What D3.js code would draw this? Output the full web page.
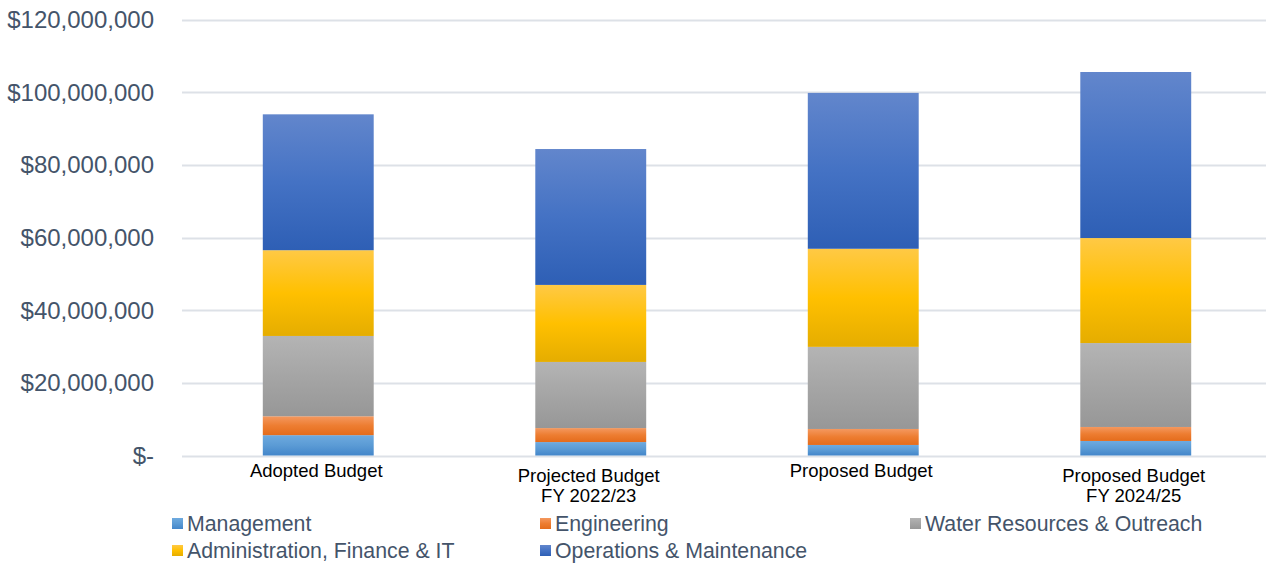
<!DOCTYPE html>
<html><head><meta charset="utf-8">
<script src="https://cdn.jsdelivr.net/npm/d3@7"></script>
<style>body{margin:0;background:#fff}svg{display:block}</style>
</head><body>
<svg id="c" width="1270" height="564"></svg>
<script>
const categories = [["Adopted Budget"], ["Projected Budget", "FY 2022/23"], ["Proposed Budget"], ["Proposed Budget", "FY 2024/25"]];
const seriesNames = ["Management", "Engineering", "Water Resources & Outreach", "Administration, Finance & IT", "Operations & Maintenance"];
const management = [5600000, 3700000, 2900000, 4000000];
const engineering = [5200000, 3850000, 4400000, 3850000];
const waterResources = [22100000, 18200000, 22600000, 23100000];
const adminFinanceIT = [23600000, 21200000, 27000000, 28900000];
const operations = [37400000, 37400000, 42900000, 45700000];
const yTicks = [0, 20000000, 40000000, 60000000, 80000000, 100000000, 120000000];

const seriesValues = [management, engineering, waterResources, adminFinanceIT, operations];
const colors = [
  ["#6eaadf", "#5b9bd5", "#4386ca"],
  ["#f4985f", "#ed7d31", "#e46c1c"],
  ["#b4b4b4", "#a5a5a5", "#979797"],
  ["#ffc945", "#ffc000", "#e5ad00"],
  ["#6286cc", "#4472c4", "#2e5fb5"]
];

const svg = d3.select("#c");
const plotLeft = 182, plotRight = 1272, plotTop = 19.5, plotBottom = 455.5;
const keys = categories.map((c, i) => i);
const x = d3.scaleBand().domain(keys).range([plotLeft, plotRight]).paddingInner(0.593).paddingOuter(0.2965);
const y = d3.scaleLinear().domain([0, 120000000]).range([plotBottom, plotTop]);

const defs = svg.append("defs");
colors.forEach((c, i) => {
  const g = defs.append("linearGradient").attr("id", "g" + i).attr("x1", 0).attr("y1", 0).attr("x2", 0).attr("y2", 1);
  g.append("stop").attr("offset", "0%").attr("stop-color", c[0]);
  g.append("stop").attr("offset", "50%").attr("stop-color", c[1]);
  g.append("stop").attr("offset", "100%").attr("stop-color", c[2]);
});

// gridlines
svg.append("g").selectAll("line").data(yTicks).join("line")
  .attr("x1", plotLeft).attr("x2", 1266)
  .attr("y1", d => Math.round(y(d)) + 0.5).attr("y2", d => Math.round(y(d)) + 0.5)
  .attr("stroke", "#dde1e7").attr("stroke-width", 2);

// y labels
const fmt = d => d === 0 ? "$-" : "$" + d3.format(",")(d);
svg.append("g").selectAll("text").data(yTicks).join("text")
  .attr("x", 154).attr("y", d => y(d) + 8.5)
  .attr("text-anchor", "end")
  .attr("font-family", "Liberation Sans, Arial, sans-serif").attr("font-size", 24)
  .attr("fill", "#44546a")
  .text(fmt);

// stacked bars
const table = keys.map(i => {
  const o = {key: i};
  seriesNames.forEach((s, j) => o[s] = seriesValues[j][i]);
  return o;
});
const stack = d3.stack().keys(seriesNames)(table);
svg.append("g").selectAll("g").data(stack).join("g")
  .attr("fill", (d, i) => "url(#g" + i + ")")
  .selectAll("rect").data(d => d).join("rect")
  .attr("x", d => x(d.data.key))
  .attr("width", x.bandwidth())
  .attr("y", d => y(d[1]))
  .attr("height", d => y(d[0]) - y(d[1]));

// x labels
const xl = svg.append("g").selectAll("text").data(keys).join("text")
  .attr("text-anchor", "middle")
  .attr("font-family", "Liberation Sans, Arial, sans-serif").attr("font-size", 18.5)
  .attr("fill", "#000");
xl.each(function(i) {
  const lines = categories[i];
  const t = d3.select(this);
  const cx = x(i) + x.bandwidth() / 2 - 2;
  const y0 = lines.length === 1 ? 477 : 482;
  lines.forEach((l, k) => t.append("tspan").attr("x", cx).attr("y", y0 + k * 19.5).text(l));
});

// legend
const legendPos = [[172, 523.5], [540, 523.5], [910, 523.5], [172, 550.5], [540, 550.5]];
const lg = svg.append("g").selectAll("g").data(seriesNames).join("g")
  .attr("transform", (d, i) => `translate(${legendPos[i][0]},${legendPos[i][1]})`);
lg.append("rect").attr("x", 0).attr("y", -5.5).attr("width", 11).attr("height", 11)
  .attr("fill", (d, i) => "url(#g" + i + ")");
lg.append("text").attr("x", 15).attr("y", 7.5)
  .attr("font-family", "Liberation Sans, Arial, sans-serif").attr("font-size", 21.3)
  .attr("fill", "#44546a").text(d => d);
</script>
</body></html>
